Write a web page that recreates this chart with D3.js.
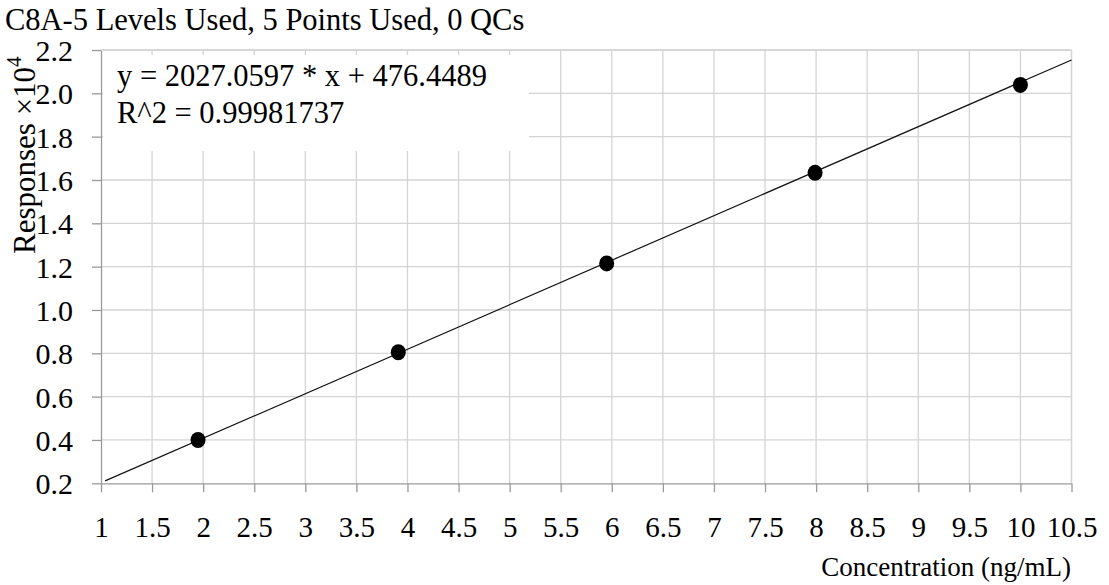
<!DOCTYPE html>
<html>
<head>
<meta charset="utf-8">
<script src="https://cdn.jsdelivr.net/npm/d3@7"></script>
<style>
  html, body { margin: 0; padding: 0; background: #fff; }
  svg { display: block; }
  svg text { font-family: "Liberation Serif", "Times New Roman", serif !important; fill: #000; }
</style>
</head>
<body>
<svg id="chart" width="1109" height="585" font-family="Liberation Serif, serif"></svg>
<script>
// Calibration levels (ng/mL) and their measured responses
const concentrations = [1.95, 3.91, 5.95, 7.99, 10.0];
const responses = [4000, 8050, 12150, 16330, 20390];

// Fitted calibration line, drawn between its two end points
const fitX = [1.04, 10.5];
const fitY = [2110, 21540];

// Axis ticks
const xTicks = [1, 1.5, 2, 2.5, 3, 3.5, 4, 4.5, 5, 5.5, 6, 6.5, 7, 7.5, 8, 8.5, 9, 9.5, 10, 10.5];
const yTicks = [2000, 4000, 6000, 8000, 10000, 12000, 14000, 16000, 18000, 20000, 22000];

const titleText = "C8A-5 Levels Used, 5 Points Used, 0 QCs";
const equationLines = ["y = 2027.0597 * x + 476.4489", "R^2 = 0.99981737"];
const xTitle = "Concentration (ng/mL)";
const yTitle = "Responses \u00d710";
const yExponent = "4";

const serif = "Liberation Serif";
const svg = d3.select("#chart");
const plot = { left: 101, right: 1071.5, top: 50, bottom: 483.3 };

const x = d3.scaleLinear().domain([1, 10.5]).range([plot.left, plot.right]);
const y = d3.scaleLinear().domain([2000, 22000]).range([plot.bottom, plot.top]);

const gridColor = "#d4d4d4";
const axisColor = "#9a9a9a";

// Grid
const grid = svg.append("g");
grid.selectAll("line.v").data(xTicks.slice(1)).join("line")
  .attr("x1", d => x(d)).attr("x2", d => x(d))
  .attr("y1", plot.top).attr("y2", plot.bottom)
  .attr("stroke", gridColor).attr("stroke-width", 1.3);
grid.selectAll("line.h").data(yTicks.slice(1)).join("line")
  .attr("x1", plot.left).attr("x2", plot.right)
  .attr("y1", d => y(d)).attr("y2", d => y(d))
  .attr("stroke", gridColor).attr("stroke-width", 1.3);

// Equation box covers the grid behind it
svg.append("rect")
  .attr("x", plot.left + 2).attr("y", 55)
  .attr("width", 426).attr("height", 96)
  .attr("fill", "#fff");

// Axes
const xAxis = d3.axisBottom(x).tickValues(xTicks)
  .tickSizeInner(9).tickSizeOuter(0).tickPadding(24)
  .tickFormat(d3.format("~g"));
const yAxis = d3.axisLeft(y).tickValues(yTicks)
  .tickSizeInner(9).tickSizeOuter(0).tickPadding(19)
  .tickFormat(d => (d / 10000).toFixed(1));

const gx = svg.append("g").attr("transform", `translate(0,${plot.bottom})`).call(xAxis);
const gy = svg.append("g").attr("transform", `translate(${plot.left},0)`).call(yAxis);

[gx, gy].forEach(g => {
  g.attr("font-family", serif);
  g.select(".domain").attr("stroke", axisColor).attr("stroke-width", 1.3);
  g.selectAll(".tick line").attr("stroke", axisColor).attr("stroke-width", 1.3);
  g.selectAll(".tick text").attr("font-family", serif).attr("fill", "#000");
});
gx.selectAll(".tick text").attr("font-size", 29);
gy.selectAll(".tick text").attr("font-size", 30).attr("dy", "0.35em");

// Top and right frame
svg.append("line").attr("x1", plot.left).attr("x2", plot.right)
  .attr("y1", plot.top).attr("y2", plot.top)
  .attr("stroke", gridColor).attr("stroke-width", 1.3);
svg.append("line").attr("x1", plot.right).attr("x2", plot.right)
  .attr("y1", plot.top).attr("y2", plot.bottom)
  .attr("stroke", gridColor).attr("stroke-width", 1.3);

// Fitted line
const fitPts = fitX.map((d, i) => [d, fitY[i]]);
svg.append("path")
  .datum(fitPts)
  .attr("d", d3.line().x(d => x(d[0])).y(d => y(d[1])))
  .attr("fill", "none").attr("stroke", "#111").attr("stroke-width", 1.2);

// Calibration points
svg.append("g").selectAll("ellipse")
  .data(concentrations.map((c, i) => ({ c, r: responses[i] })))
  .join("ellipse")
  .attr("cx", d => x(d.c)).attr("cy", d => y(d.r))
  .attr("rx", 7.5).attr("ry", 8)
  .attr("fill", "#000");

// Equation text
svg.append("g").selectAll("text").data(equationLines).join("text")
  .attr("x", 117).attr("y", (d, i) => 86 + i * 37)
  .attr("font-family", serif).attr("font-size", 30.5)
  .text(d => d);

// Title
svg.append("text").attr("x", 5).attr("y", 30)
  .attr("font-family", serif).attr("font-size", 30.5).text(titleText);

// X axis title
svg.append("text").attr("x", 1071).attr("y", 576)
  .attr("text-anchor", "end")
  .attr("font-family", serif).attr("font-size", 27).text(xTitle);

// Y axis title with exponent
const yt = svg.append("text")
  .attr("transform", "translate(35,254) rotate(-90)")
  .attr("font-family", serif).attr("font-size", 31);
yt.append("tspan").text(yTitle);
yt.append("tspan").attr("dy", -14).attr("font-size", 21).text(yExponent);
</script>
</body>
</html>
